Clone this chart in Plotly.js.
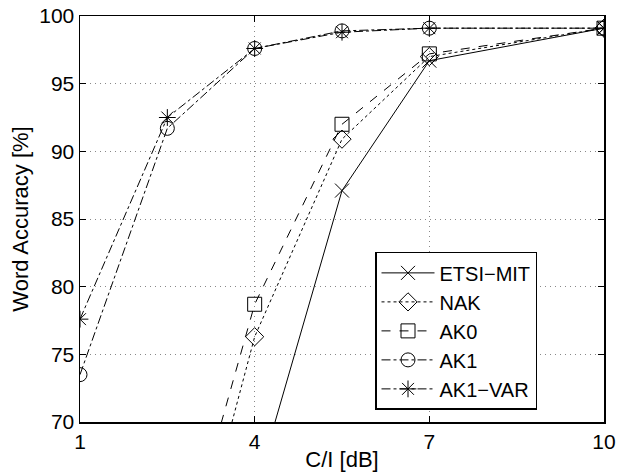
<!DOCTYPE html>
<html><head><meta charset="utf-8">
<script src="https://cdn.plot.ly/plotly-3.0.1.min.js"></script>
<style>body{margin:0;padding:0;background:#fff}#chart{width:618px;height:475px}</style>
</head><body><div id="chart"></div>
<script>
const xEtsi = [4, 5.5, 7, 10];
const yEtsi = [64.8, 87.1, 96.7, 99.1];
const xNak = [2.5, 4, 5.5, 7, 10];
const yNak = [52, 76.3, 90.9, 97.0, 99.1];
const xAk0 = [2.5, 4, 5.5, 7, 10];
const yAk0 = [55.8, 78.7, 92.0, 97.2, 99.1];
const xAk1 = [1, 2.5, 4, 5.5, 7, 10];
const yAk1 = [73.5, 91.7, 97.6, 98.9, 99.1, 99.1];
const xAk1Var = [1, 2.5, 4, 5.5, 7, 10];
const yAk1Var = [77.6, 92.5, 97.6, 98.8, 99.1, 99.1];
const names = ['ETSI\u2212MIT', 'NAK', 'AK0', 'AK1', 'AK1\u2212VAR'];
const xTicks = [1, 4, 7, 10];
const yTicks = [70, 75, 80, 85, 90, 95, 100];

function tr(x, y, name, dash, sym) {
  return {x: x, y: y, name: name, type: 'scatter', mode: 'lines+markers',
    line: {color: '#000', width: 1, dash: dash},
    marker: {symbol: sym, size: 14, color: '#000', line: {color: '#000', width: 1}},
    cliponaxis: true};
}
const data = [
  tr(xEtsi, yEtsi, names[0], 'solid', 'x-thin-open'),
  tr(xNak, yNak, names[1], 'dot', 'diamond-open'),
  tr(xAk0, yAk0, names[2], 'dash', 'square-open'),
  tr(xAk1, yAk1, names[3], 'dashdot', 'circle-open'),
  tr(xAk1Var, yAk1Var, names[4], 'dashdot', 'asterisk-open')
];
const FONT = 'Liberation Sans, Arial, sans-serif';
const axisCommon = {showline: true, linecolor: '#000', linewidth: 1.5, mirror: 'ticks',
  ticks: 'inside', ticklen: 6, tickcolor: '#000', zeroline: false,
  showgrid: true, gridcolor: '#888', griddash: '1px,4px', gridwidth: 1,
  tickfont: {family: FONT, size: 21, color: '#000'}};
const layout = {
  width: 618, height: 475,
  margin: {l: 80, r: 14, t: 16, b: 53},
  paper_bgcolor: '#fff', plot_bgcolor: '#fff',
  font: {family: FONT, color: '#000'},
  xaxis: Object.assign({}, axisCommon, {range: [1, 10], tickvals: xTicks, ticktext: xTicks.map(String),
    title: {text: 'C/I [dB]', font: {family: FONT, size: 22, color: '#000'}, standoff: 0}}),
  yaxis: Object.assign({}, axisCommon, {range: [70, 100], tickvals: yTicks,
    title: {text: 'Word Accuracy [%]', font: {family: FONT, size: 22, color: '#000'}, standoff: 4}}),
  showlegend: true,
  legend: {x: 0.563, y: 0.419, xanchor: 'left', yanchor: 'top', bgcolor: '#fff',
    bordercolor: '#000', borderwidth: 1.5, font: {family: FONT, size: 20, color: '#000'},
    tracegroupgap: 0, itemwidth: 53}
};
Plotly.newPlot('chart', data, layout, {displayModeBar: false, staticPlot: true});
</script></body></html>
